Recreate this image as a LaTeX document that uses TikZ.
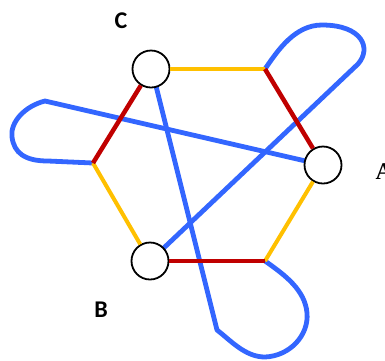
\documentclass[tikz,border=0pt]{standalone}
\usepackage{fontspec}
\newfontfamily\labfont{Carlito}
\newfontfamily\serfont{Liberation Serif}
\definecolor{loopblue}{RGB}{51,102,255}
\definecolor{edgered}{RGB}{192,0,0}
\definecolor{edgeyellow}{RGB}{255,192,0}
\begin{document}
\begin{tikzpicture}[x=1pt, y=-1pt,
		vtx/.style={circle, draw=black, line width=1.8pt, fill=white, minimum size=37pt, inner sep=0pt},
		redge/.style={edgered, line width=4.5pt},
		yedge/.style={edgeyellow, line width=4pt},
		bloop/.style={loopblue, line width=4.8pt, line join=round, line cap=round},
		lab/.style={font=\labfont\bfseries\fontsize{24}{28}\selectfont}]
	\useasboundingbox (0,0) rectangle (385,360);
	% hexagon corners
	\coordinate (tr) at (265,69);
	\coordinate (br) at (265,261);
	\coordinate (lv) at (93,163);
	% blue loops go first, the circles cover their ends
	\draw[bloop] (323,165) -- (45,101) % to the left loop
		.. controls (25,106) and (10,122) .. (12,137)
		.. controls (14,153) and (25,161) .. (48,161) -- (lv);
	\draw[bloop] (150,261) -- (358,64) % to the top loop
		.. controls (372,48) and (362,25) .. (322,25)
		.. controls (295,25) and (278,50) .. (tr);
	\draw[bloop] (152,70) -- (217,330) -- (222,334) % to the bottom loop
		.. controls (235,345) and (248,357) .. (265,357)
		.. controls (290,356) and (309,335) .. (307,313)
		.. controls (305,290) and (285,275) .. (br);
	\node[vtx] (C) at (151,69) {};
	\node[vtx] (A) at (323,165) {};
	\node[vtx] (B) at (150,261) {};
	\draw[yedge] (C) -- (tr);
	\draw[redge] (tr) -- (A);
	\draw[yedge] (A) -- (br);
	\draw[redge] (br) -- (B);
	\draw[yedge] (B) -- (lv);
	\draw[redge] (lv) -- (C);
	\node[lab] (labC) at (121,21) {C};
	\node[lab] (labB) at (101,310) {B};
	\node[font=\serfont\bfseries\fontsize{24}{28}\selectfont, anchor=west] (labA) at (372,172) {A};
\end{tikzpicture}
\end{document}
